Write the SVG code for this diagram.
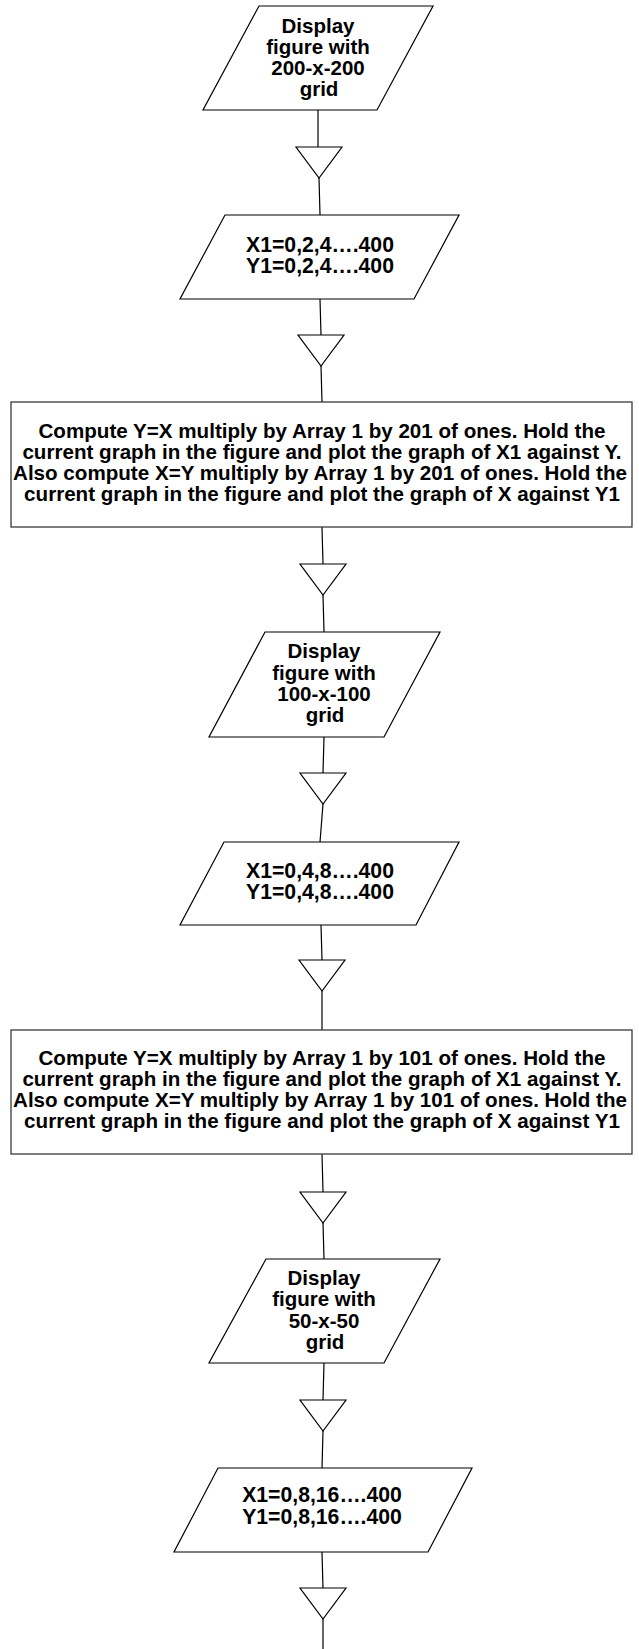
<svg xmlns="http://www.w3.org/2000/svg" width="639" height="1649" viewBox="0 0 639 1649">
<style>
.bg{fill:#ffffff}
.shape{fill:#ffffff;stroke:#000000;stroke-width:1.2}
.box{fill:#ffffff;stroke:#3a3a3a;stroke-width:1.3}
.t{font-family:"Liberation Sans",Arial,sans-serif;font-weight:bold;font-size:20.5px;fill:#000000;text-anchor:middle}
.tb{font-size:20.6px}
.tx{font-size:21.2px}
.ln{stroke:#000000;stroke-width:1.2;fill:none}
.tri{fill:#ffffff;stroke:#000000;stroke-width:1.2}
</style>
<defs>
<path id="merge" d="M-23,0 L23,0 L0,31 Z"/>
</defs>
<rect class="bg" x="0" y="0" width="639" height="1649"/>

<g id="connectors">
  <line class="ln" x1="318" y1="110" x2="318" y2="147"/>
  <use href="#merge" class="tri" x="319" y="147"/>
  <line class="ln" x1="319" y1="178" x2="320" y2="215"/>

  <line class="ln" x1="320" y1="299" x2="321" y2="335"/>
  <use href="#merge" class="tri" x="321" y="335"/>
  <line class="ln" x1="321" y1="366" x2="322" y2="402"/>

  <line class="ln" x1="322" y1="527" x2="323" y2="564"/>
  <use href="#merge" class="tri" x="323" y="564"/>
  <line class="ln" x1="323" y1="595" x2="324" y2="632"/>

  <line class="ln" x1="324" y1="737" x2="323" y2="773"/>
  <use href="#merge" class="tri" x="323" y="773"/>
  <line class="ln" x1="323" y1="804" x2="320" y2="842"/>

  <line class="ln" x1="321" y1="925" x2="322" y2="960"/>
  <use href="#merge" class="tri" x="322" y="960"/>
  <line class="ln" x1="322" y1="991" x2="322" y2="1030"/>

  <line class="ln" x1="322" y1="1154" x2="323" y2="1192"/>
  <use href="#merge" class="tri" x="323" y="1192"/>
  <line class="ln" x1="323" y1="1223" x2="324" y2="1259"/>

  <line class="ln" x1="324" y1="1363" x2="323" y2="1400"/>
  <use href="#merge" class="tri" x="323" y="1400"/>
  <line class="ln" x1="323" y1="1431" x2="322" y2="1468"/>

  <line class="ln" x1="322" y1="1552" x2="323" y2="1588"/>
  <use href="#merge" class="tri" x="323" y="1588"/>
  <line class="ln" x1="323" y1="1619" x2="323" y2="1649"/>
</g>

<g id="node1">
  <polygon class="shape" points="259,6 433,6 377,110 203,110"/>
  <text class="t" x="318" y="33">Display</text>
  <text class="t" x="318" y="54">figure with</text>
  <text class="t" x="318" y="75">200-x-200</text>
  <text class="t" x="319" y="96">grid</text>
</g>

<g id="node2">
  <polygon class="shape" points="225,215 459,215 414,299 180,299"/>
  <text class="t tx" x="320" y="252">X1=0,2,4….400</text>
  <text class="t tx" x="320" y="273">Y1=0,2,4….400</text>
</g>

<g id="node3">
  <rect class="box" x="11" y="402" width="621" height="125"/>
  <text class="t tb" x="322" y="438">Compute Y=X multiply by Array 1 by 201 of ones. Hold the</text>
  <text class="t tb" x="322" y="459">current graph in the figure and plot the graph of X1 against Y.</text>
  <text class="t tb" x="320" y="480">Also compute X=Y multiply by Array 1 by 201 of ones. Hold the</text>
  <text class="t tb" x="322" y="501">current graph in the figure and plot the graph of X against Y1</text>
</g>

<g id="node4">
  <polygon class="shape" points="265,632 440,632 384,737 209,737"/>
  <text class="t" x="324" y="658">Display</text>
  <text class="t" x="324" y="680">figure with</text>
  <text class="t" x="324" y="701">100-x-100</text>
  <text class="t" x="325" y="722">grid</text>
</g>

<g id="node5">
  <polygon class="shape" points="224,842 459,842 416,925 180,925"/>
  <text class="t tx" x="320" y="878">X1=0,4,8….400</text>
  <text class="t tx" x="320" y="899">Y1=0,4,8….400</text>
</g>

<g id="node6">
  <rect class="box" x="11" y="1030" width="621" height="124"/>
  <text class="t tb" x="322" y="1065">Compute Y=X multiply by Array 1 by 101 of ones. Hold the</text>
  <text class="t tb" x="322" y="1086">current graph in the figure and plot the graph of X1 against Y.</text>
  <text class="t tb" x="320" y="1107">Also compute X=Y multiply by Array 1 by 101 of ones. Hold the</text>
  <text class="t tb" x="322" y="1128">current graph in the figure and plot the graph of X against Y1</text>
</g>

<g id="node7">
  <polygon class="shape" points="266,1259 440,1259 384,1363 209,1363"/>
  <text class="t" x="324" y="1285">Display</text>
  <text class="t" x="324" y="1306">figure with</text>
  <text class="t" x="324" y="1328">50-x-50</text>
  <text class="t" x="325" y="1349">grid</text>
</g>

<g id="node8">
  <polygon class="shape" points="218,1468 472,1468 428,1552 174,1552"/>
  <text class="t tx" x="322" y="1502">X1=0,8,16….400</text>
  <text class="t tx" x="322" y="1524">Y1=0,8,16….400</text>
</g>
</svg>
